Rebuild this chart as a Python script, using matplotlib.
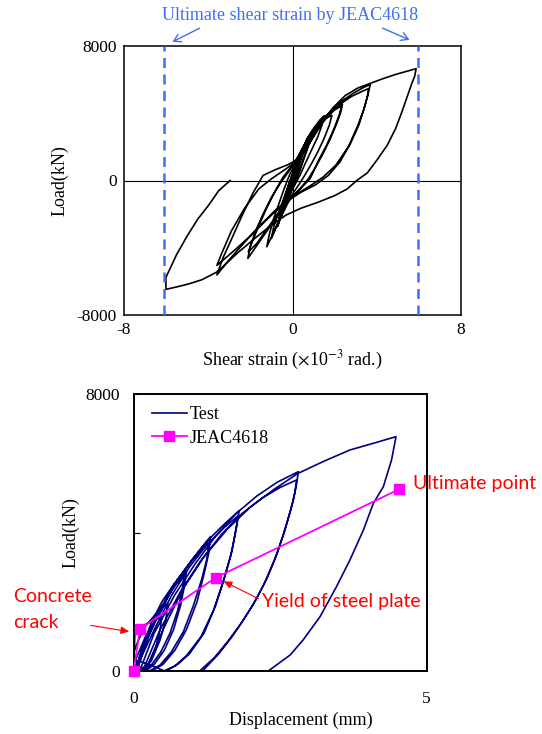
import numpy as np
import matplotlib
matplotlib.use('Agg')
import matplotlib.pyplot as plt

plt.rcParams['font.family'] = ['Liberation Serif', 'DejaVu Serif']
plt.rcParams['mathtext.fontset'] = 'stix'
plt.rcParams['axes.unicode_minus'] = False

# ---- top chart: shear strain (x10^-3 rad) vs load (kN) ----
# small cycles near the origin
c1_x = [0, 0.12, 0.25, 0.32, 0.22, 0.10, -0.05, -0.18, -0.28, -0.20, -0.08, 0.05]
c1_y = [0, 450, 900, 1150, 700, 250, -300, -700, -1050, -600, -150, 300]
c2_x = [0.2, 0.4, 0.6, 0.5, 0.32, 0.12, -0.1, -0.3, -0.5, -0.38, -0.2, 0.0]
c2_y = [900, 1600, 2100, 1600, 900, 100, -600, -1200, -1900, -1300, -600, 200]
c3_x = [0.25, 0.5, 0.75, 0.95, 0.82, 0.6, 0.35, 0.1, -0.2, -0.45, -0.7, -0.58, -0.38, -0.15,
        0.1, 0.4, 0.7, 0.92, 0.78, 0.55, 0.3, 0.05, -0.25, -0.5, -0.72, -0.6, -0.4, -0.2]
c3_y = [1000, 1800, 2500, 2900, 2300, 1500, 600, -200, -1000, -1800, -2700, -2000, -1100, -200,
        700, 1600, 2400, 2850, 2200, 1400, 500, -300, -1100, -1900, -2750, -2000, -1100, -300]
c4_x = [0.05, 0.35, 0.7, 1.0, 1.3, 1.5, 1.4, 1.2, 0.9, 0.6, 0.35, 0.05, -0.3, -0.6, -0.85, -1.0,
        -0.9, -0.7, -0.45, -0.2,
        0.05, 0.35, 0.7, 1.1, 1.5, 1.87, 1.75, 1.5, 1.2, 0.9, 0.6, 0.3, -0.05, -0.4, -0.75, -1.05,
        -1.22, -1.1, -0.9, -0.65, -0.4]
c4_y = [500, 1500, 2500, 3100, 3600, 3850, 3300, 2600, 1800, 1000, 300, -400, -1300, -2200, -3000, -3450,
        -2800, -2000, -1200, -300,
        600, 1500, 2500, 3200, 3650, 3880, 3300, 2500, 1700, 1000, 350, -250, -900, -1800, -2700, -3500,
        -3944, -3200, -2300, -1400, -500]
# +-2.3 cycles
c5_x = [-0.15, 0.2, 0.6, 1.0, 1.45, 1.9, 2.37,
        2.3, 2.1, 1.8, 1.45, 1.1, 0.75, 0.35, -0.1, -0.6, -1.1, -1.6, -2.12,
        -2.0, -1.75, -1.4, -1.0, -0.6, -0.2, 0.2, 0.6, 1.05, 1.55, 2.0, 2.33,
        2.22, 1.98, 1.62, 1.24, 0.84, 0.37, -0.15, -0.7, -1.25, -1.7, -2.1]
c5_y = [300, 1200, 2200, 3000, 3700, 4150, 4534,
        4100, 3400, 2500, 1600, 800, 100, -500, -1100, -1900, -2800, -3700, -4633,
        -3900, -3000, -2000, -1000, -200, 500, 1300, 2200, 3000, 3750, 4200, 4450,
        3900, 3100, 2100, 1206, 119, -500, -1150, -2000, -2950, -3750, -4250]
# +-3.6 cycles
c6_x = [-1.9, -1.6, -1.25, -0.85, -0.45, 0.0, 0.45, 0.95, 1.5, 2.2, 2.9, 3.4, 3.69,
        3.62, 3.45, 3.15, 2.75, 2.25, 1.7, 1.1, 0.4, -0.4, -1.2, -2.0, -2.8, -3.59,
        -3.35, -2.9, -2.3, -1.6, -1.0, -0.3, 0.3, 0.8, 1.4, 2.1, 2.8, 3.3, 3.61,
        3.56, 3.38, 3.08, 2.65, 2.05, 1.45, 0.8, 0.0, -0.8, -1.6, -2.4, -3.1, -3.59]
c6_y = [-3600, -2700, -1700, -700, 200, 900, 1700, 2700, 3700, 4600, 5200, 5550, 5702,
        5300, 4500, 3300, 2200, 1100, 300, -250, -700, -1350, -2300, -3300, -4200, -5050,
        -4300, -3000, -1700, -500, 100, 700, 1250, 2200, 3400, 4400, 5000, 5300, 5465,
        5000, 4200, 3200, 2000, 900, 200, -350, -950, -1750, -2750, -3850, -4850, -5620]
# last big cycle
c7_x = [-3.3, -2.9, -2.4, -1.9, -1.4, -0.8, -0.2, 0.37, 0.8, 1.3, 1.9, 2.5, 3.1, 3.7, 4.3, 4.9, 5.4, 5.87,
        5.8, 5.66, 5.45, 5.2, 4.9, 4.5, 4.0, 3.55, 3.05, 2.6, 2.0, 1.2, 0.4, -0.3, -1.0, -1.8, -2.6,
        -3.2, -3.6, -4.3, -4.94, -5.5, -6.01,
        -6.01, -5.5, -5.0, -4.5, -4.0, -3.5, -2.96]
c7_y = [-4600, -3500, -2100, -800, 300, 650, 950, 1350, 2200, 3300, 4300, 5050, 5500, 5780, 6060, 6310, 6490, 6653,
        6200, 5760, 5000, 4100, 3100, 2100, 1200, 450, 0, -500, -900, -1300, -1650, -2050, -2650, -3450, -4300,
        -5000, -5450, -5900, -6158, -6330, -6475,
        -5762, -4400, -3300, -2300, -1500, -600, 0]
ult_strain = [-6.08, 5.94]

# ---- bottom chart: displacement (mm) vs load (kN) ----
disp_test = [0.0, 0.01, 0.02, 0.12, 0.28, 0.48, 0.45, 0.38, 0.26, 0.1,
             0.0, 0.08, 0.2, 0.35, 0.5, 0.58, 0.55, 0.45, 0.3, 0.14,
             0.02, 0.15, 0.3, 0.48, 0.68, 0.9, 0.87, 0.8, 0.68, 0.52, 0.35, 0.2,
             0.05, 0.2, 0.38, 0.56, 0.72, 0.86, 0.83, 0.75, 0.62, 0.46, 0.3, 0.17,
             0.02, 0.2, 0.45, 0.7, 0.95, 1.15, 1.31, 1.28, 1.2, 1.08, 0.9, 0.7, 0.5, 0.3,
             0.05, 0.25, 0.5, 0.75, 1.0, 1.28, 1.25, 1.16, 1.02, 0.85, 0.64, 0.45, 0.26,
             0.0, 0.2, 0.48, 0.7, 0.99, 1.27, 1.56, 1.8, 1.76, 1.68, 1.55, 1.4, 1.2, 0.95, 0.75, 0.54,
             0.1, 0.35, 0.65, 0.95, 1.25, 1.55, 1.78, 1.74, 1.66, 1.52, 1.36, 1.15, 0.9, 0.7, 0.5,
             0.1, 0.35, 0.7, 1.05, 1.4, 1.75, 2.1, 2.45, 2.81,
             2.78, 2.72, 2.6, 2.45, 2.28, 2.1, 1.9, 1.68, 1.45, 1.17,
             0.15, 0.45, 0.8, 1.15, 1.5, 1.85, 2.2, 2.5, 2.78,
             2.75, 2.68, 2.56, 2.4, 2.22, 2.03, 1.82, 1.6, 1.38, 1.12,
             0.2, 0.5, 0.85, 1.2, 1.6, 2.0, 2.4, 2.8, 3.24, 3.69, 4.09, 4.476,
             4.40, 4.26, 4.09, 3.92, 3.69, 3.46, 3.18, 2.89, 2.67, 2.29]
load_test = [0, 600, 1100, 1280, 1420, 1574, 1200, 700, 250, 0,
             550, 900, 1300, 1600, 1850, 1950, 1500, 900, 300, 0,
             0, 700, 1400, 2000, 2500, 2899, 2500, 1900, 1200, 600, 200, 0,
             0, 800, 1500, 2100, 2500, 2780, 2350, 1750, 1100, 550, 180, 0,
             0, 900, 1800, 2500, 3100, 3550, 3879, 3400, 2800, 2000, 1200, 600, 200, 0,
             0, 1000, 1900, 2650, 3200, 3720, 3250, 2650, 1900, 1150, 550, 180, 0,
             200, 1000, 1767, 2536, 3208, 3784, 4265, 4629, 4200, 3500, 2700, 1900, 1100, 500, 200, 0,
             300, 1200, 2200, 3000, 3650, 4150, 4480, 4050, 3350, 2550, 1750, 1000, 450, 150, 0,
             0, 1100, 2200, 3100, 3900, 4550, 5050, 5450, 5754,
             5400, 4900, 4200, 3400, 2700, 2100, 1550, 1000, 500, 0,
             0, 1200, 2300, 3200, 3950, 4550, 5000, 5300, 5514,
             5150, 4650, 3950, 3200, 2500, 1900, 1350, 850, 400, 0,
             0, 1200, 2400, 3300, 4100, 4750, 5250, 5700, 6050, 6378, 6571, 6762,
             6090, 5320, 4842, 4072, 3208, 2438, 1574, 902, 470, 0]
disp_jeac = [0, 0.107, 1.40, 4.527]
load_jeac = [0, 1219, 2698, 5245]

W, H = 542, 734
fig = plt.figure(figsize=(W / 100, H / 100), dpi=100)


def fx(px):
    return px / W


def fy(py):
    return 1 - py / H


blue = '#3f6ff5'
navy = '#000080'

# ---------------- top ----------------
ax1 = fig.add_axes([fx(124), fy(315), fx(337), 269 / H])
strain = np.concatenate([c1_x, c2_x, c3_x, c4_x, c5_x, c6_x, c7_x])
load = np.concatenate([c1_y, c2_y, c3_y, c4_y, c5_y, c6_y, c7_y])
ax1.plot(strain, load, color='black', lw=1.2, zorder=3)
for u in ult_strain:
    ax1.axvline(u, color=blue, lw=1.8, dashes=(4, 2.6), zorder=4)
ax1.axhline(0, color='black', lw=0.8, zorder=1)
ax1.axvline(0, color='black', lw=0.8, zorder=1)
ax1.set_xlim(-8, 8)
ax1.set_ylim(-8000, 8000)
ax1.set_xticks([-8, 0, 8])
ax1.set_yticks([-8000, 0, 8000])
ax1.tick_params(length=0, labelsize=12.5, pad=5)
for s in ax1.spines.values():
    s.set_linewidth(1.1)
ax1.set_xlabel(r'Shear strain ($\times$10$^{-3}$ rad.)', fontsize=13, labelpad=8)
ax1.set_ylabel('Load(kN)', fontsize=13, labelpad=6)

fig.text(fx(290), fy(15), 'Ultimate shear strain by JEAC4618', color=blue,
         fontsize=13, ha='center', va='center')
for p0, p1 in [((202, 27), (170, 43)), ((380, 27), (412, 41))]:
    fig.add_artist(matplotlib.patches.FancyArrowPatch(
        (fx(p0[0]), fy(p0[1])), (fx(p1[0]), fy(p1[1])), transform=fig.transFigure,
        arrowstyle='->,head_length=5,head_width=3', color=blue, lw=1.0))

# ---------------- bottom ----------------
ax2 = fig.add_axes([fx(133.7), fy(671.3), fx(293), 277.6 / H])
ax2.plot(disp_test, load_test, color=navy, lw=1.2, label='Test')
ax2.plot(disp_jeac, load_jeac, color='#ff00ff', lw=1.3, marker='s', ms=7,
         label='JEAC4618', clip_on=False, zorder=5)
ax2.set_xlim(0, 5)
ax2.set_ylim(0, 8000)
ax2.set_xticks([0, 5])
ax2.set_yticks([0, 4000, 8000])
ax2.set_yticklabels(['0', '', '8000'])
ax2.tick_params(axis='x', length=0, labelsize=12.5, pad=14)
ax2.tick_params(axis='y', direction='in', length=4, labelsize=12.5, pad=10)
for s in ax2.spines.values():
    s.set_linewidth(1.4)
ax2.set_xlabel('Displacement (mm)', fontsize=13)
ax2.xaxis.set_label_coords(0.57, -0.145)
ax2.set_ylabel('Load(kN)', fontsize=13)
ax2.yaxis.set_label_coords(-0.185, 0.5)
ax2.legend(loc='upper left', bbox_to_anchor=(0.02, 1.0), frameon=False, fontsize=13,
           handlelength=1.9, handletextpad=0.2, labelspacing=0.35, borderaxespad=0.3)

red = '#ff0000'
rfont = ['Lato', 'DejaVu Sans']
fig.text(fx(413), fy(483), 'Ultimate point', color=red, fontsize=14, family=rfont,
         ha='left', va='center')
fig.text(fx(262), fy(602), 'Yield of steel plate', color=red, fontsize=14, family=rfont,
         ha='left', va='center')
fig.text(fx(13), fy(596), 'Concrete', color=red, fontsize=14, family=rfont,
         ha='left', va='center')
fig.text(fx(13), fy(622), 'crack', color=red, fontsize=14, family=rfont,
         ha='left', va='center')
for p0, p1 in [((261, 600), (221, 580)), ((88, 625), (132, 632))]:
    fig.add_artist(matplotlib.patches.FancyArrowPatch(
        (fx(p0[0]), fy(p0[1])), (fx(p1[0]), fy(p1[1])), transform=fig.transFigure,
        arrowstyle='-|>,head_length=5,head_width=2.2', color=red, lw=0.8))

fig.savefig('out.png', dpi=100)
